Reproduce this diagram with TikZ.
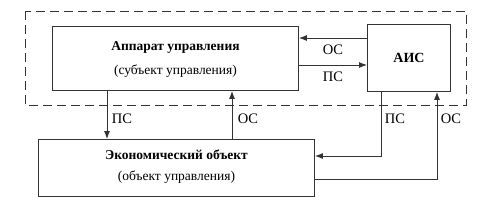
\documentclass[tikz,border=0pt]{standalone}
\usepackage{fontspec}
\setmainfont{Liberation Serif}
\usetikzlibrary{arrows.meta}
\begin{document}
\begin{tikzpicture}[x=1pt,y=-1pt,
  line/.style={draw=black!80,line width=0.9pt},
  arr/.style={line,-{Latex[length=8pt,width=6pt]}},
  lbl/.style={font=\fontsize{14.5}{16}\selectfont,inner sep=0pt},
  txt/.style={font=\fontsize{13.5}{16}\selectfont,inner sep=0pt},
  btxt/.style={font=\fontsize{13.5}{16}\selectfont\bfseries,inner sep=0pt}]
\useasboundingbox (0,0) rectangle (492,210);
% dashed frame
\draw[line,dash pattern=on 9pt off 5pt] (25,11) rectangle (466,105);
% boxes
\node[line,minimum width=246pt,minimum height=64pt,inner sep=0pt,anchor=north west] (au) at (52,26) {};
\node[btxt] (au1) at (au.center|-0,47) {Аппарат управления};
\node[txt] (au2) at (au.center|-0,71) {(субъект управления)};
\node[line,minimum width=83pt,minimum height=67pt,inner sep=0pt,anchor=north west,font=\fontsize{14}{16}\selectfont\bfseries] (ais) at (367,24) {АИС};
\node[line,minimum width=276pt,minimum height=57pt,inner sep=0pt,anchor=north west] (eo) at (38,139) {};
\node[btxt] (eo1) at (eo.center|-0,155) {Экономический объект};
\node[txt] (eo2) at (eo.center|-0,177) {(объект управления)};
% horizontal arrows
\draw[arr] (ais.west|-0,38) -- (au.east|-0,38);
\draw[arr] (au.east|-0,65) -- (ais.west|-0,65);
\node[lbl] (l1) at (333,50) {ОС};
\node[lbl] (l2) at (333,77) {ПС};
% vertical arrows
\draw[arr] (au.south-|107,0) -- (eo.north-|107,0);
\draw[arr] (eo.north-|232,0) -- (au.south-|232,0);
\node[lbl] (l3) at (122,119) {ПС};
\node[lbl] (l4) at (248,119) {ОС};
% right loops
\coordinate (c1) at (381,156);
\coordinate (c2) at (437,179);
\draw[arr] (ais.south-|381,0) -- (c1) -- (eo.east|-c1);
\draw[arr] (eo.east|-c2) -- (c2) -- (ais.south-|437,0);
\node[lbl] (l5) at (395,119) {ПС};
\node[lbl] (l6) at (451,119) {ОС};
\end{tikzpicture}
\end{document}
